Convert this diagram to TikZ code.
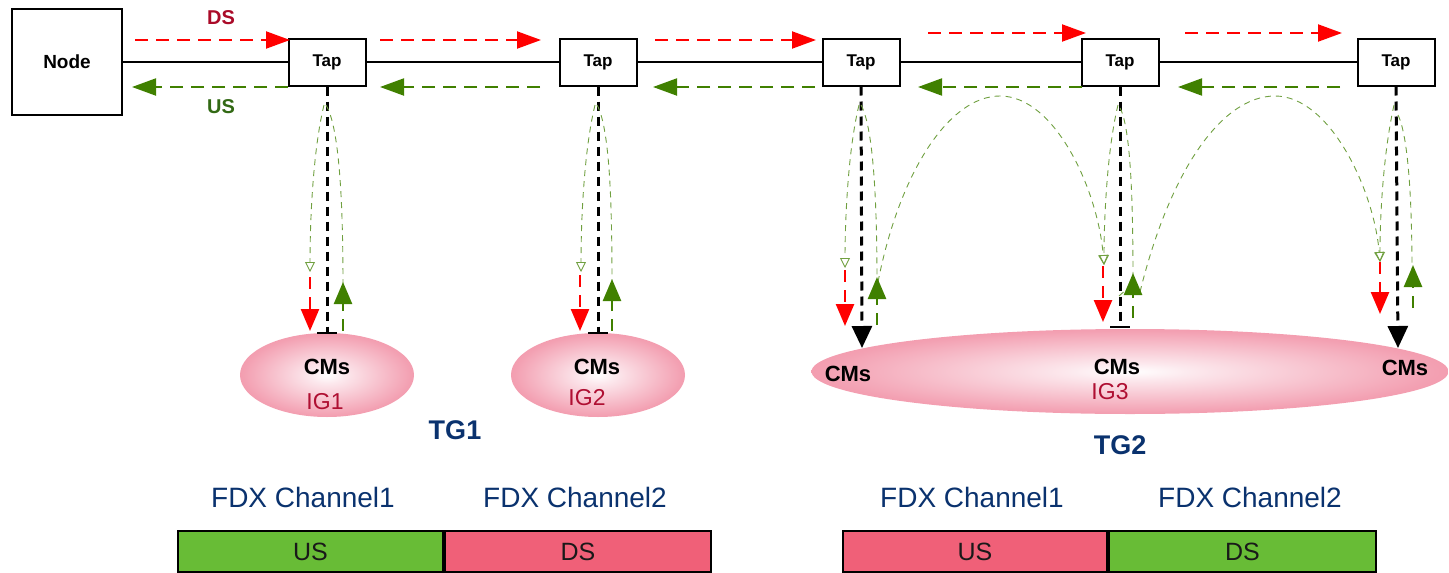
\documentclass[tikz,border=0pt]{standalone}
\usepackage{fontspec}
\setmainfont{Liberation Sans}
\usetikzlibrary{arrows.meta,shapes.geometric}

\definecolor{dsred}{RGB}{255,0,0}
\definecolor{usgreen}{RGB}{64,128,0}
\definecolor{dslabel}{RGB}{170,10,40}
\definecolor{uslabel}{RGB}{50,105,20}
\definecolor{navy}{RGB}{10,50,110}
\definecolor{igred}{RGB}{175,15,50}
\definecolor{barGreen}{RGB}{104,188,54}
\definecolor{barPink}{RGB}{240,96,120}
\definecolor{pinkedge}{RGB}{236,100,125}
\definecolor{pinkmid}{RGB}{243,160,178}
\definecolor{pinkcore}{RGB}{252,232,237}
\pgfdeclareradialshading{cmglow}{\pgfpoint{0bp}{0bp}}{color(0bp)=(white); color(5bp)=(pinkcore); color(24bp)=(pinkmid); color(50bp)=(pinkedge)}

\newcommand\pxsize[1]{\fontsize{#1}{#1}\selectfont}

\tikzset{
  nodebox/.style={draw, line width=2pt, minimum width=110pt, minimum height=106pt, inner sep=0pt, font=\pxsize{19}\bfseries},
  tapbox/.style={draw, line width=2pt, fill=white, minimum width=77pt, minimum height=47pt, inner sep=0pt, font=\pxsize{17}\bfseries},
  feeder/.style={line width=2pt},
  dsflow/.style={dsred, line width=2pt, dash pattern=on 13pt off 8pt, -{Triangle[width=17pt,length=24pt]}},
  usflow/.style={usgreen, line width=2pt, dash pattern=on 13pt off 8pt, -{Triangle[width=17pt,length=24pt]}},
  drop/.style={black, line width=3pt, dash pattern=on 9pt off 6pt},
  droparrow/.style={drop, -{Triangle[width=20pt,length=22pt]}},
  tick/.style={line width=2pt},
  cmdown/.style={dsred, line width=2.5pt, dash pattern=on 12pt off 8pt, -{Triangle[width=18pt,length=22pt]}},
  cmup/.style={usgreen, line width=2.5pt, dash pattern=on 12pt off 8pt, -{Triangle[width=18pt,length=22pt]}},
  echo/.style={usgreen!75, line width=0.9pt, dash pattern=on 6pt off 5pt},
  echoarrow/.style={echo, -{Triangle[open,width=10pt,length=10pt]}},
  cmcloud/.style={ellipse, shading=cmglow, inner sep=0pt},
  cmtext/.style={font=\pxsize{22}\bfseries},
  igtext/.style={text=igred, font=\pxsize{23}},
  tgtext/.style={text=navy, font=\pxsize{27}\bfseries},
  fdxtext/.style={text=navy, font=\pxsize{28}},
  bandUS/.style={draw, line width=2pt, fill=barGreen, minimum width=265pt, minimum height=41pt, inner sep=0pt, font=\pxsize{25}, text=black!90},
  bandDS/.style={draw, line width=2pt, fill=barPink, minimum width=266pt, minimum height=41pt, inner sep=0pt, font=\pxsize{25}, text=black!90},
}

\begin{document}
\begin{tikzpicture}[x=1pt,y=-1pt]
\useasboundingbox (0,0) rectangle (1449,573);

% cable plant: node and taps
\node[nodebox] (node) at (67,62) {Node};
\node[tapbox] (tap1) at (327,62) {Tap};
\node[tapbox] (tap2) at (598,62) {Tap};
\node[tapbox] (tap3) at (861,62) {Tap};
\node[tapbox] (tap4) at (1120,62) {Tap};
\node[tapbox] (tap5) at (1396,62) {Tap};
\draw[feeder] (node.east) -- (tap1.west);
\draw[feeder] (tap1.east) -- (tap2.west);
\draw[feeder] (tap2.east) -- (tap3.west);
\draw[feeder] (tap3.east) -- (tap4.west);
\draw[feeder] (tap4.east) -- (tap5.west);

% direction labels
\node[text=dslabel, font=\pxsize{20}\bfseries] (dslbl) at (221,18) {DS};
\node[text=uslabel, font=\pxsize{20}\bfseries] (uslbl) at (221,107) {US};

% downstream flow
\coordinate (ds0a) at (135,40);  \coordinate (ds0b) at (290,40);
\coordinate (ds1a) at (380,40);  \coordinate (ds1b) at (541,40);
\coordinate (ds2a) at (655,40);  \coordinate (ds2b) at (816,40);
\coordinate (ds3a) at (928,33);  \coordinate (ds3b) at (1086,33);
\coordinate (ds4a) at (1185,33); \coordinate (ds4b) at (1342,33);
\draw[dsflow] (ds0a) -- (ds0b);
\draw[dsflow] (ds1a) -- (ds1b);
\draw[dsflow] (ds2a) -- (ds2b);
\draw[dsflow] (ds3a) -- (ds3b);
\draw[dsflow] (ds4a) -- (ds4b);

% upstream flow
\coordinate (us0a) at (288,87);  \coordinate (us0b) at (132,87);
\coordinate (us1a) at (540,87);  \coordinate (us1b) at (380,87);
\coordinate (us2a) at (815,87);  \coordinate (us2b) at (653,87);
\coordinate (us3a) at (1082,87); \coordinate (us3b) at (918,87);
\coordinate (us4a) at (1340,87); \coordinate (us4b) at (1178,87);
\draw[usflow] (us0a) -- (us0b);
\draw[usflow] (us1a) -- (us1b);
\draw[usflow] (us2a) -- (us2b);
\draw[usflow] (us3a) -- (us3b);
\draw[usflow] (us4a) -- (us4b);

% modem groups
\node[cmcloud, minimum width=174pt, minimum height=84pt] (ig1) at (327,375) {};
\node[cmcloud, minimum width=174pt, minimum height=84pt] (ig2) at (598,375) {};
\node[cmcloud, minimum width=637pt, minimum height=85pt] (ig3) at (1130,371.5) {};

\node[cmtext] (cm1) at (327,367) {CMs};
\node[igtext] (ig1lbl) at (325,402) {IG1};
\node[cmtext] (cm2) at (597,367) {CMs};
\node[igtext] (ig2lbl) at (587,398) {IG2};
\node[cmtext] (cm3) at (848,374) {CMs};
\node[cmtext] (cm4) at (1117,367) {CMs};
\node[igtext] (ig3lbl) at (1110,392) {IG3};
\node[cmtext] (cm5) at (1405,368) {CMs};

\node[tgtext] (tg1) at (455,430) {TG1};
\node[tgtext] (tg2) at (1120,445) {TG2};

% tap drops
\coordinate (end1) at (327,333);
\coordinate (end2) at (598,333);
\coordinate (end3) at (862,348);
\coordinate (end4) at (1120,327);
\coordinate (end5) at (1398,348);
\draw[drop] (tap1.south) -- (end1);
\draw[tick] ([xshift=-10pt]end1) -- ([xshift=10pt]end1);
\draw[drop] (tap2.south) -- (end2);
\draw[tick] ([xshift=-10pt]end2) -- ([xshift=10pt]end2);
\draw[droparrow] (tap3.south) -- (end3);
\draw[drop] (tap4.south) -- (end4);
\draw[tick] ([xshift=-10pt]end4) -- ([xshift=10pt]end4);
\draw[droparrow] (tap5.south) -- (end5);

% signal echoes near each tap
\draw[echoarrow] (324,105) .. controls (313,150) and (310,220) .. (310,272);
\draw[echo] (326,105) .. controls (341,130) and (343,220) .. (343,288);
\draw[echoarrow] (595,105) .. controls (584,150) and (581,220) .. (581,272);
\draw[echo] (597,105) .. controls (611,130) and (612,220) .. (612,288);
\draw[echoarrow] (859,105) .. controls (848,150) and (845,220) .. (845,268);
\draw[echo] (861,105) .. controls (875,130) and (877,220) .. (877,285);
\draw[echoarrow] (1118,105) .. controls (1107,150) and (1104,220) .. (1104,265);
\draw[echo] (1120,108) .. controls (1132,130) and (1133,220) .. (1133,282);
\draw[echoarrow] (1394,105) .. controls (1384,150) and (1380,210) .. (1380,262);
\draw[echo] (1398,115) .. controls (1410,140) and (1412,220) .. (1412,272);

% arching echoes between taps
\draw[echoarrow] (878,282) .. controls (900,170) and (950,96) .. (1000,96)
                 .. controls (1055,96) and (1098,190) .. (1104,265);
\draw[echoarrow] (1140,292) .. controls (1170,170) and (1222,96) .. (1275,96)
                 .. controls (1330,96) and (1374,190) .. (1380,262);
\draw[echo] (1119,296) -- (1128,288);

% short downstream / upstream hops at the modems
\coordinate (dn1a) at (310,277);  \coordinate (dn1b) at (310,331);
\coordinate (dn2a) at (580,275);  \coordinate (dn2b) at (580,331);
\coordinate (dn3a) at (845,270);  \coordinate (dn3b) at (845,326);
\coordinate (dn4a) at (1103,266); \coordinate (dn4b) at (1103,322);
\coordinate (dn5a) at (1380,262); \coordinate (dn5b) at (1380,314);
\draw[cmdown] (dn1a) -- (dn1b);
\draw[cmdown] (dn2a) -- (dn2b);
\draw[cmdown] (dn3a) -- (dn3b);
\draw[cmdown] (dn4a) -- (dn4b);
\draw[cmdown] (dn5a) -- (dn5b);

\coordinate (up1a) at (343,331);  \coordinate (up1b) at (343,282);
\coordinate (up2a) at (612,331);  \coordinate (up2b) at (612,279);
\coordinate (up3a) at (877,325);  \coordinate (up3b) at (877,277);
\coordinate (up4a) at (1133,318); \coordinate (up4b) at (1133,273);
\coordinate (up5a) at (1413,308); \coordinate (up5b) at (1413,265);
\draw[cmup] (up1a) -- (up1b);
\draw[cmup] (up2a) -- (up2b);
\draw[cmup] (up3a) -- (up3b);
\draw[cmup] (up4a) -- (up4b);
\draw[cmup] (up5a) -- (up5b);

% FDX channel allocation
\node[fdxtext] (fdx1a) at (303,497) {FDX Channel1};
\node[fdxtext] (fdx2a) at (575,497) {FDX Channel2};
\node[fdxtext] (fdx1b) at (972,497) {FDX Channel1};
\node[fdxtext] (fdx2b) at (1250,497) {FDX Channel2};

\node[bandUS] (bandL1) at (310.5,551.5) {US};
\node[bandDS, anchor=west] (bandL2) at (bandL1.east) {DS};
\node[bandDS, fill=barPink, minimum width=264pt] (bandR1) at (975,551.5) {US};
\node[bandUS, fill=barGreen, anchor=west, minimum width=267pt] (bandR2) at (bandR1.east) {DS};
\end{tikzpicture}
\end{document}
